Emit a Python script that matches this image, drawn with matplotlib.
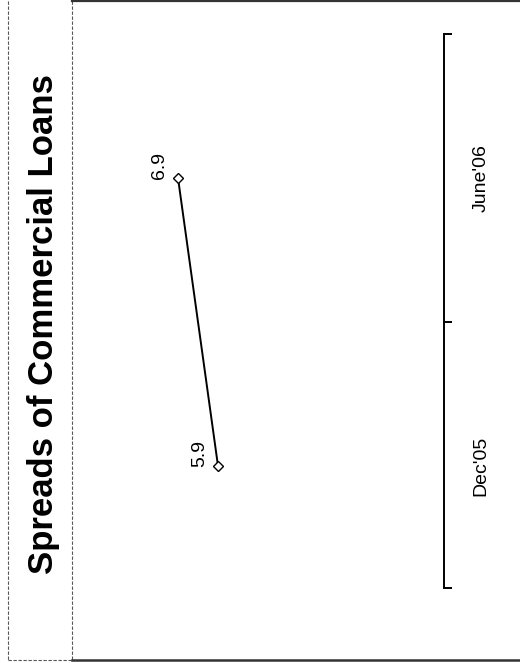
import matplotlib.pyplot as plt
from matplotlib.lines import Line2D
from matplotlib import transforms

plt.rcParams['font.family'] = ['Liberation Sans', 'DejaVu Sans']

periods = ["Dec'05", "June'06"]
spreads = [5.9, 6.9]
title = 'Spreads of Commercial Loans'

W, H = 520, 663
fig = plt.figure(figsize=(W / 100, H / 100), dpi=100)


def fx(px):
    return px / W


def fy(py):
    return 1 - py / H


# chart is laid on its side: categories run up the right edge, values grow to the left
ax = fig.add_axes([fx(80), fy(588), fx(444) - fx(80), fy(34) - fy(588)])
pos = list(range(len(periods)))
ax.plot(spreads, pos, color='black', lw=1.4, marker='D', ms=5,
        mfc='white', mec='black', mew=1.0, zorder=3)
ax.set_xlim(9.35, 0.25)
ax.set_ylim(-0.424, 1.5)

for s in ['top', 'bottom', 'left']:
    ax.spines[s].set_visible(False)
ax.spines['right'].set_linewidth(1.4)
ax.set_xticks([])
ax.yaxis.tick_right()
ax.set_yticks([-0.424, 0.5, 1.5])
ax.set_yticklabels([])
ax.tick_params(axis='y', direction='out', length=6, width=1.4, color='black')

lab_tr = transforms.blended_transform_factory(ax.transAxes, ax.transData)
for p, name in zip(pos, periods):
    ax.text(1 + 37 / 364, p, name, transform=lab_tr, rotation=90,
            ha='center', va='center', fontsize=14)

for p, v in zip(pos, spreads):
    ax.annotate(f'{v:.1f}', (v, p), xytext=(-18, 12), textcoords='offset pixels',
                rotation=90, ha='center', va='center', fontsize=14)

fig.text(fx(44), fy(324), title, rotation=90, ha='center', va='center',
         fontsize=25, fontweight='bold')

# frame around the panel and the title strip
frame = dict(color='#555555', lw=0.8, ls=(0, (3, 1.5)))
fig.add_artist(Line2D([fx(8), fx(8)], [fy(1), fy(660)], **frame))
fig.add_artist(Line2D([fx(72), fx(72)], [fy(1), fy(660)], **frame))
fig.add_artist(Line2D([fx(8), fx(72)], [fy(660), fy(660)], **frame))
fig.add_artist(Line2D([fx(72), fx(520)], [fy(1), fy(1)], color='#333333', lw=1.6))
fig.add_artist(Line2D([fx(72), fx(520)], [fy(660), fy(660)], color='#333333', lw=1.8))

fig.savefig('out.png', dpi=100)
